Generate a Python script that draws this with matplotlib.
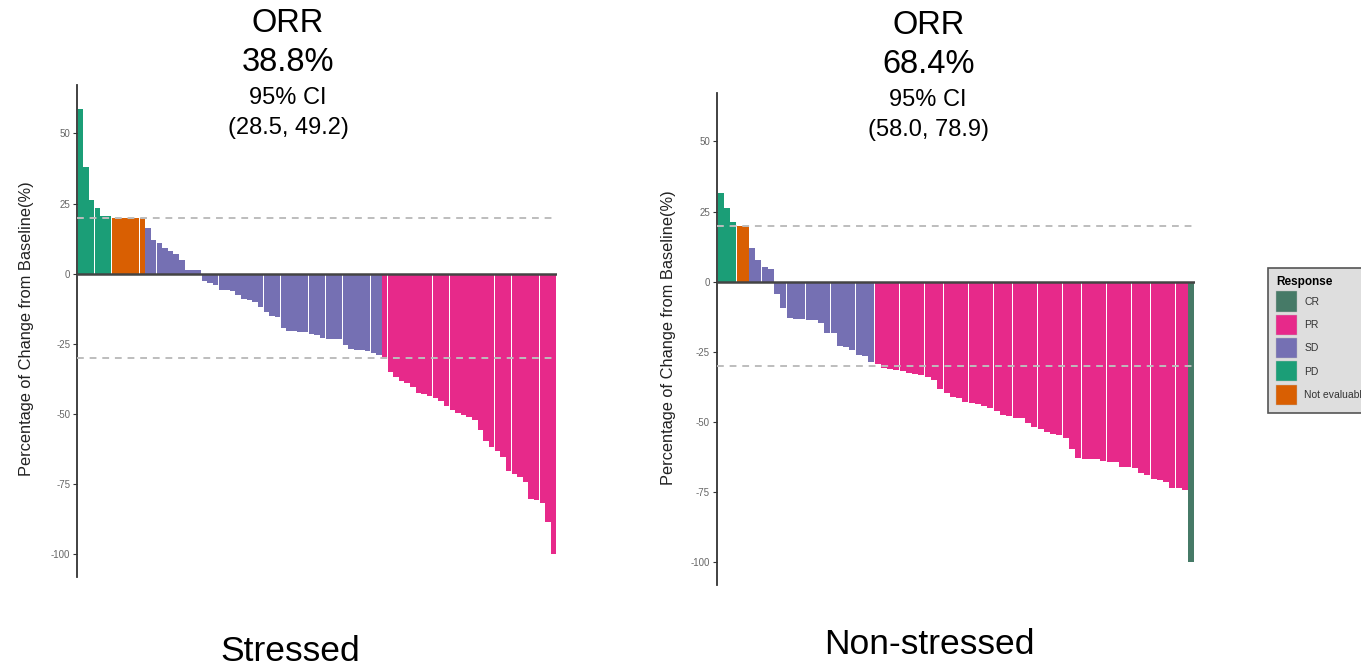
"""Waterfall plots of best percentage change from baseline, stressed vs non-stressed."""

import matplotlib.pyplot as plt
import numpy as np
from matplotlib.patches import Patch

plt.rcParams["font.family"] = ["Liberation Sans", "DejaVu Sans"]

# Colores por respuesta (Dark2)
RESPONSES = ["CR", "PR", "SD", "PD", "Not evaluable"]
COLORS = ["#467a67", "#e7298a", "#7570b3", "#1b9e77", "#d95f02"]

# --- Stressed ---
stressed_pd = [58.8, 38.0, 26.4, 23.3, 20.7, 20.5]
stressed_ne = [20.0, 20.0, 20.0, 20.0, 20.0, 20.0]
stressed_sd = [16.2, 12.0, 11.0, 9.0, 8.0, 7.0, 5.0, 1.1, 1.1, 1.1,
               -2.6, -3.3, -4.2, -5.7, -6.0, -6.2, -7.8, -9.0, -9.3, -10.1,
               -11.9, -13.7, -15.2, -15.6, -19.6, -20.4, -20.6, -20.7, -20.9, -21.6,
               -21.8, -23.1, -23.2, -23.3, -23.5, -25.6, -27.1, -27.3, -27.4, -27.6,
               -28.5, -28.9]
stressed_pr = [-30.5, -35.0, -36.8, -38.2, -39.0, -40.6, -42.6, -43.1, -43.6, -44.3,
               -45.4, -47.1, -48.6, -49.8, -50.4, -51.3, -52.1, -55.7, -59.6, -62.0,
               -63.2, -65.6, -70.4, -71.5, -72.7, -74.3, -80.5, -80.7, -81.9, -88.6,
               -100.0]

# --- Non-stressed ---
ns_pd = [31.5, 26.2, 21.4]
ns_ne = [20.0, 20.0]
ns_sd = [11.9, 7.7, 5.1, 4.4, -4.5, -9.3, -13.1, -13.2, -13.3, -13.6,
         -13.8, -14.9, -18.2, -18.5, -23.0, -23.2, -24.4, -26.3, -26.6, -28.6]
ns_pr = [-29.5, -30.7, -31.3, -31.7, -32.1, -32.6, -33.0, -33.3, -33.9, -35.1,
         -38.5, -39.9, -41.1, -41.4, -42.9, -43.5, -43.8, -44.4, -45.0, -46.2,
         -47.6, -48.0, -48.6, -48.8, -50.6, -51.8, -52.7, -53.8, -54.4, -54.8,
         -55.7, -59.8, -63.1, -63.3, -63.4, -63.5, -64.1, -64.5, -64.5, -66.1,
         -66.3, -66.7, -68.5, -69.1, -70.6, -70.8, -71.4, -73.6, -73.8, -74.5]
ns_cr = [-100.0]

y_ticks = [-100, -75, -50, -25, 0, 25, 50]
y_ticklabels = ["-100", "-75", "-50", "-25", "0", "25", "50"]
y_label = "Percentage of Change from Baseline(%)"

groups_stressed = [(stressed_pd, "PD"), (stressed_ne, "Not evaluable"),
                   (stressed_sd, "SD"), (stressed_pr, "PR")]
groups_ns = [(ns_pd, "PD"), (ns_ne, "Not evaluable"), (ns_sd, "SD"),
             (ns_pr, "PR"), (ns_cr, "CR")]


def draw_panel(ax, groups):
    values = np.concatenate([g[0] for g in groups])
    colors = []
    for vals, resp in groups:
        colors += [COLORS[RESPONSES.index(resp)]] * len(vals)
    x = np.arange(1, len(values) + 1)
    ax.bar(x, values, width=0.96, color=colors, linewidth=0)
    ax.axhline(20, color="#bdbdbd", lw=1.4, ls=(0, (3.5, 3.0)), zorder=3)
    ax.axhline(-30, color="#bdbdbd", lw=1.4, ls=(0, (3.5, 3.0)), zorder=3)
    ax.axhline(0, color="#444444", lw=1.8, zorder=4)
    ax.set_xlim(0.4, len(values) + 0.6)
    ax.set_ylim(-108.3, 67.3)
    ax.set_xticks([])
    ax.set_yticks(y_ticks)
    ax.set_yticklabels(y_ticklabels)
    ax.tick_params(axis="y", labelsize=7, colors="#333333", labelcolor="#666666",
                   length=3, width=0.8, pad=2)
    for s in ["top", "right", "bottom"]:
        ax.spines[s].set_visible(False)
    ax.spines["left"].set_color("#333333")
    ax.spines["left"].set_linewidth(1.3)


fig = plt.figure(figsize=(13.61, 6.66), dpi=100)
ax1 = fig.add_axes([0.0566, 0.1336, 0.3527, 0.7388])
ax2 = fig.add_axes([0.5268, 0.1216, 0.3512, 0.7388])
draw_panel(ax1, groups_stressed)
draw_panel(ax2, groups_ns)

fig.text(0.0198, 0.507, y_label, rotation=90, ha="center", va="center",
         fontsize=11.8, color="#222222")
fig.text(0.491, 0.493, y_label, rotation=90, ha="center", va="center",
         fontsize=11.8, color="#222222")

# Cabeceras ORR
for xc, dy, orr, ci in [(0.2116, 0.0, "38.8%", "(28.5, 49.2)"),
                        (0.682, -0.003, "68.4%", "(58.0, 78.9)")]:
    fig.text(xc, 0.965 + dy, "ORR", ha="center", va="center", fontsize=23.5)
    fig.text(xc, 0.906 + dy, orr, ha="center", va="center", fontsize=23.5)
    fig.text(xc, 0.853 + dy, "95% CI", ha="center", va="center", fontsize=17)
    fig.text(xc, 0.808 + dy, ci, ha="center", va="center", fontsize=17)

fig.text(0.213, 0.022, "Stressed", ha="center", va="center", fontsize=25.5)
fig.text(0.683, 0.032, "Non-stressed", ha="center", va="center", fontsize=25.5)

handles = [Patch(facecolor=c, edgecolor="#bbbbbb", linewidth=0.3) for c in COLORS]
leg = fig.legend(handles, RESPONSES, title="Response", loc="upper left",
                 bbox_to_anchor=(0.9315, 0.5976), borderaxespad=0,
                 fontsize=7.5, title_fontsize=8.5,
                 handlelength=2.0, handleheight=2.6, labelspacing=0.3,
                 handletextpad=0.7, borderpad=0.8, fancybox=False,
                 framealpha=1, alignment="left")
leg.get_frame().set_facecolor("#dedede")
leg.get_frame().set_edgecolor("#555555")
leg.get_frame().set_linewidth(1.2)
leg.get_title().set_fontweight("bold")
for t in leg.get_texts():
    t.set_color("#333333")

fig.savefig("out.png", dpi=100)
